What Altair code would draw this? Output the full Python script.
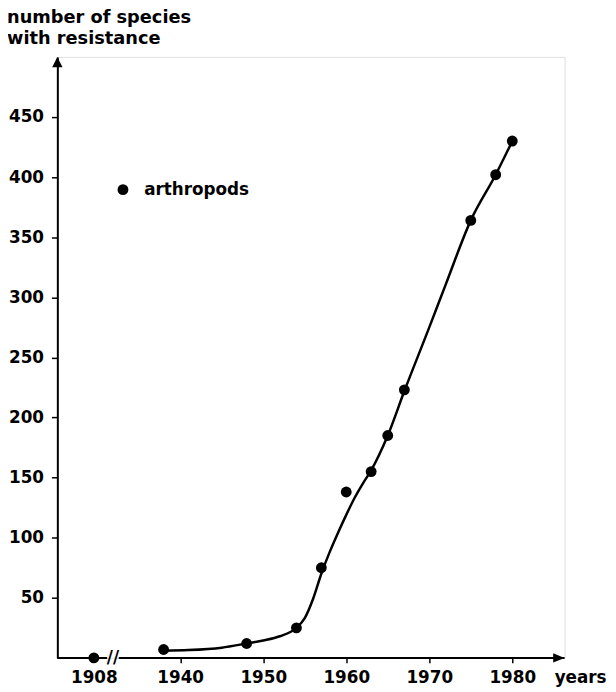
import altair as alt
import pandas as pd

# ---- data ----
years = [1908, 1938, 1948, 1954, 1957, 1960, 1963, 1965, 1967, 1975, 1978, 1980]
species = [0, 7, 12, 25, 75, 138, 155, 185, 223, 364, 402, 430]

curve_years = [1938, 1941, 1945, 1948, 1950, 1952, 1954, 1955, 1956, 1957, 1958, 1959,
               1960, 1961, 1962, 1963, 1965, 1967, 1970, 1972, 1975, 1978, 1980]
curve_values = [6, 6.5, 8.5, 12, 14.5, 18, 25, 33, 49, 70, 88, 104,
                119, 133, 145, 156, 185, 222, 275, 311, 364, 402, 430]

x_ticks = [1940, 1950, 1960, 1970, 1980]
y_ticks = [50, 100, 150, 200, 250, 300, 350, 400, 450]
series_name = "arthropods"
title_lines = ["number of species", "with resistance"]
x_title = "years"

# ---- broken-axis layout constants ----
X_MIN, X_MAX = 1925.2, 1986.3
Y_MAX = 500
BREAK_POS = 1929.6     # where 1908 sits on the broken axis
BREAK_LEFT, BREAK_MARK, BREAK_RIGHT = 1931.2, 1931.9, 1932.6

FONT = "DejaVu Sans"
FS = 17


def axis_pos(y):
    return y if y >= 1930 else BREAK_POS


pts = pd.DataFrame({"pos": [axis_pos(y) for y in years], "value": species,
                    "series": [series_name] * len(years)})
curve = pd.DataFrame({"pos": curve_years, "value": curve_values})
xaxis_segments = pd.DataFrame({"pos": [X_MIN, BREAK_RIGHT], "pos2": [BREAK_LEFT, X_MAX],
                               "value": [0, 0]})
break_mark = pd.DataFrame({"pos": [BREAK_MARK], "value": [0], "t": ["//"]})
x_arrow = pd.DataFrame({"pos": [X_MAX], "value": [0]})
y_arrow = pd.DataFrame({"pos": [X_MIN], "value": [Y_MAX]})

x_axis = alt.Axis(
    values=[BREAK_POS] + x_ticks,
    labelExpr="datum.value < 1935 ? '1908' : format(datum.value, 'd')",
    domain=False, grid=False,
    tickSize=5, tickWidth=1.5,
    tickColor={"condition": {"test": "datum.value < 1935", "value": "transparent"},
               "value": "black"},
    labelPadding=7, labelFont=FONT, labelFontSize=FS, labelFontWeight="bold",
    labelColor="black", labelFlush=False, labelOverlap=False,
    title=x_title, titleFont=FONT, titleFontSize=FS, titleFontWeight="bold",
    titleColor="black", titleX=556, titleY=12, titleAlign="right",
    titleBaseline="top", titleAnchor="end",
)
y_axis = alt.Axis(
    values=y_ticks, grid=False, title=None,
    domain=True, domainColor="black", domainWidth=2,
    tickSize=6, tickWidth=1.5, tickColor="black",
    labelPadding=8, labelFont=FONT, labelFontSize=FS, labelFontWeight="bold",
    labelColor="black",
)

x_enc = alt.X("pos:Q", scale=alt.Scale(domain=[X_MIN, X_MAX], nice=False, zero=False),
              axis=x_axis)
y_enc = alt.Y("value:Q", scale=alt.Scale(domain=[0, Y_MAX], nice=False), axis=y_axis)

line = alt.Chart(curve).mark_line(color="black", strokeWidth=2.5,
                                  interpolate="monotone", clip=False).encode(x=x_enc, y=y_enc)

points = alt.Chart(pts).mark_point(filled=True, shape="circle", size=121, opacity=1,
                                   clip=False).encode(
    x=x_enc, y=y_enc,
    color=alt.Color("series:N", scale=alt.Scale(range=["black"]),
                    legend=alt.Legend(orient="none", legendX=58, legendY=126, title=None,
                                      padding=0, symbolType="circle", symbolSize=121,
                                      symbolFillColor="black", symbolStrokeWidth=0,
                                      symbolOffset=0, labelOffset=13,
                                      labelFont=FONT, labelFontSize=FS,
                                      labelFontWeight="bold", labelColor="black")),
)

axis_line = alt.Chart(xaxis_segments).mark_rule(color="black", strokeWidth=2,
                                                clip=False).encode(
    x=x_enc, x2="pos2:Q", y=y_enc)

brk = alt.Chart(break_mark).mark_text(font=FONT, fontSize=17, fontWeight="bold",
                                      color="black", baseline="middle", align="center",
                                      clip=False).encode(x=x_enc, y=y_enc, text="t:N")

x_head = alt.Chart(x_arrow).mark_point(shape="M0,0L-2.2,-0.9L-2.2,0.9Z", filled=True,
                                       size=110, color="black", opacity=1,
                                       clip=False).encode(x=x_enc, y=y_enc)
y_head = alt.Chart(y_arrow).mark_point(shape="M0,0L-1,2L1,2Z", filled=True,
                                       size=110, color="black", opacity=1,
                                       clip=False).encode(x=x_enc, y=y_enc)

chart = alt.layer(axis_line, brk, line, points, x_head, y_head).properties(
    width=514, height=609,
    padding={"left": 50, "top": 45, "right": 44, "bottom": 30},
    autosize=alt.AutoSizeParams(type="none"),
    title=alt.TitleParams(text=title_lines, anchor="start", frame="group", dx=-51,
                          offset=9, font=FONT, fontSize=18, fontWeight="bold",
                          color="black", lineHeight=21.6),
).configure_view(stroke=None).configure(background="white")

chart.save("out.html", embed_options={"renderer": "svg", "actions": False})
